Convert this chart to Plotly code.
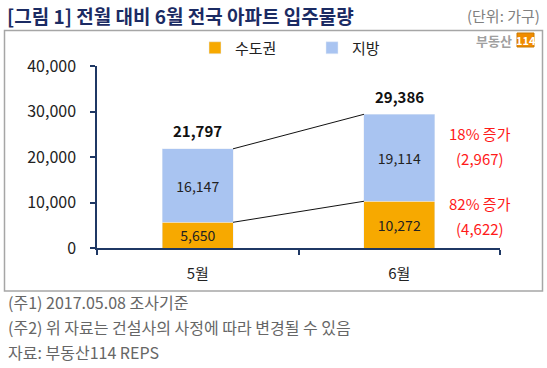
import plotly.graph_objects as go

months = ["5월", "6월"]
capital = [5650, 10272]
regional = [16147, 19114]
y_ticks = [0, 10000, 20000, 30000, 40000]
notes = ["(주1) 2017.05.08 조사기준",
         "(주2) 위 자료는 건설사의 사정에 따라 변경될 수 있음",
         "자료: 부동산114 REPS"]

totals = [c + r for c, r in zip(capital, regional)]

W, H = 547, 368
L, R, T, B = 97, 500, 66, 248  # plot area in pixels
FONT = "Noto Sans CJK KR, Malgun Gothic, sans-serif"
NAVY = "#1F3864"
ORANGE = "#F7A900"
BLUE = "#A9C4F1"
BARW = 0.35


def px(x):
    return (x - L) / (R - L)


def py(y):
    return (B - y) / (B - T)


fig = go.Figure()
fig.add_trace(go.Bar(x=months, y=capital, name="수도권", marker_color=ORANGE,
                     text=[f"{v:,}" for v in capital], textposition="inside",
                     insidetextanchor="middle",
                     textfont=dict(size=15, color="#222222"), width=BARW))
fig.add_trace(go.Bar(x=months, y=regional, name="지방", marker_color=BLUE,
                     text=[f"{v:,}" for v in regional], textposition="inside",
                     insidetextanchor="middle",
                     textfont=dict(size=15, color="#222222"), width=BARW))

shapes = []
# connector lines between bars
for a, b in [(totals[0], totals[1]), (capital[0], capital[1])]:
    shapes.append(dict(type="line", xref="x", yref="y", x0=0 + BARW / 2, x1=1 - BARW / 2,
                       y0=a, y1=b, line=dict(color="#111111", width=1)))
# outer frame
shapes.append(dict(type="rect", xref="paper", yref="paper",
                   x0=px(4.5), x1=px(542.5), y0=py(291), y1=py(30.5),
                   line=dict(color="#A6A6A6", width=1.5), layer="below"))
# logo box
shapes.append(dict(type="rect", xref="paper", yref="paper",
                   x0=px(517), x1=px(534), y0=py(47), y1=py(33),
                   line=dict(color="#C87800", width=1), fillcolor="#F08C00"))

ann = []
for i, t in enumerate(totals):
    ann.append(dict(x=months[i], y=t, xref="x", yref="y", text=f"<b>{t:,}</b>",
                    showarrow=False, yshift=18, font=dict(size=15, color="#111111")))

# growth annotations
d_reg = regional[1] - regional[0]
d_cap = capital[1] - capital[0]
g_reg = round(d_reg / regional[0] * 100)
g_cap = round(d_cap / capital[0] * 100)
red_items = [(f"{g_reg}% 증가", 133), (f"({d_reg:,})", 158),
             (f"{g_cap}% 증가", 203), (f"({d_cap:,})", 228)]
for txt, ypix in red_items:
    ann.append(dict(x=px(480), y=py(ypix), xref="paper", yref="paper", text=txt,
                    showarrow=False, font=dict(size=15, color="#FF1A1A"),
                    xanchor="center", yanchor="middle"))

# title & unit
ann.append(dict(x=px(5), y=py(15), xref="paper", yref="paper",
                text="<b>[그림 1] 전월 대비 6월 전국 아파트 입주물량</b>",
                showarrow=False, xanchor="left", yanchor="middle",
                font=dict(size=19, color="#1B2B63")))
ann.append(dict(x=px(542), y=py(15), xref="paper", yref="paper", text="(단위: 가구)",
                showarrow=False, xanchor="right", yanchor="middle",
                font=dict(size=15, color="#808080")))
# logo
ann.append(dict(x=px(514), y=py(40), xref="paper", yref="paper", text="<b>부동산</b>",
                showarrow=False, xanchor="right", yanchor="middle",
                font=dict(size=13, color="#A0A0A0")))
ann.append(dict(x=px(525.5), y=py(40), xref="paper", yref="paper", text="<b>114</b>",
                showarrow=False, xanchor="center", yanchor="middle",
                font=dict(size=11, color="#FFFFFF")))
# notes
for i, n in enumerate(notes):
    ann.append(dict(x=px(6), y=py(302 + 25 * i), xref="paper", yref="paper", text=n,
                    showarrow=False, xanchor="left", yanchor="middle",
                    font=dict(size=16, color="#666666")))

fig.update_layout(
    width=W, height=H,
    margin=dict(l=L, r=W - R, t=T, b=H - B, pad=0),
    barmode="stack", bargap=0.65,
    plot_bgcolor="white", paper_bgcolor="white",
    font=dict(family=FONT, size=15, color="#222222"),
    showlegend=True,
    legend=dict(orientation="h", x=px(195), y=py(48), xanchor="left", yanchor="middle",
                font=dict(size=15, color="#222222"), entrywidth=72, entrywidthmode="pixels",
                itemwidth=30, bgcolor="rgba(0,0,0,0)", traceorder="normal"),
    shapes=shapes, annotations=ann,
    uniformtext=dict(minsize=8, mode="show"),
)
fig.update_xaxes(type="category", range=[-0.5, 1.5], showline=True, linecolor=NAVY,
                 linewidth=1.5, ticks="outside", tickson="boundaries", ticklen=5,
                 tickcolor=NAVY, tickwidth=1.5, showgrid=False, ticklabelstandoff=11,
                 tickfont=dict(size=15, color="#222222"), fixedrange=True)
fig.update_yaxes(range=[0, 40000], tickvals=y_ticks,
                 ticktext=[f"{v:,}" for v in y_ticks], showline=True, linecolor=NAVY,
                 linewidth=1.5, ticks="outside", ticklen=5, tickcolor=NAVY, tickwidth=1.5,
                 showgrid=False, zeroline=False, ticklabelstandoff=11,
                 tickfont=dict(size=16, color="#222222"))

fig.write_html("out.html", config={"displayModeBar": False},
               post_script="document.body.style.margin='0';")
